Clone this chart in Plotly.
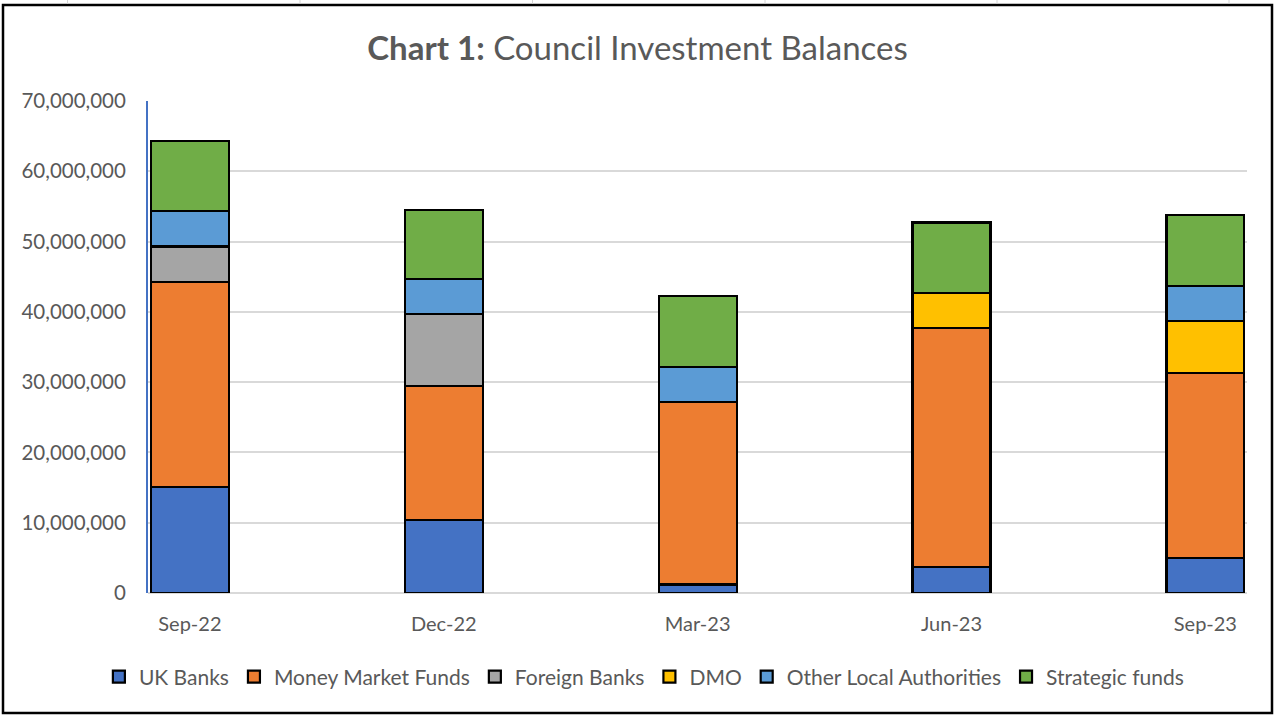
import plotly.graph_objects as go

# ---- data (GBP) ----
categories = ["Sep-22", "Dec-22", "Mar-23", "Jun-23", "Sep-23"]
uk_banks = [15100000, 10400000, 1200000, 3700000, 5000000]
money_market_funds = [29200000, 19100000, 26000000, 34000000, 26300000]
foreign_banks = [5000000, 10200000, None, None, None]
dmo = [None, None, None, 5000000, 7400000]
other_local_authorities = [5000000, 5000000, 5000000, None, 5000000]
strategic_funds = [10000000, 9800000, 10000000, 10000000, 10100000]

series = [
    ("UK Banks", uk_banks, "#4472C4"),
    ("Money Market Funds", money_market_funds, "#ED7D31"),
    ("Foreign Banks", foreign_banks, "#A5A5A5"),
    ("DMO", dmo, "#FFC000"),
    ("Other Local Authorities", other_local_authorities, "#5B9BD5"),
    ("Strategic funds", strategic_funds, "#70AD47"),
]

W, H = 1275, 715
L, R, T, B = 148, 1247, 101, 593  # plot-area pixel edges
FONT = "Lato"
TXT = "#595959"

fig = go.Figure()
for name, vals, col in series:
    fig.add_trace(go.Bar(
        x=categories, y=vals, name=name, width=0.307,
        marker=dict(color=col, line=dict(color="black", width=2.2)),
    ))

def px_x(p):
    return (p - L) / (R - L)

def px_y(p):
    return (B - p) / (B - T)

shapes = [
    dict(type="rect", xref="paper", yref="paper",
         x0=px_x(3), x1=px_x(1272), y0=px_y(713), y1=px_y(5),
         line=dict(color="black", width=2.5), fillcolor="rgba(0,0,0,0)",
         layer="above"),
]
# faint spreadsheet cell lines peeking above the chart frame
for gx in (67.5, 300, 532.5, 765, 997, 1229):
    shapes.append(dict(type="line", xref="paper", yref="paper",
                       x0=px_x(gx), x1=px_x(gx), y0=px_y(0), y1=px_y(3.5),
                       line=dict(color="#D4D4D4", width=1)))

fig.update_layout(
    width=W, height=H,
    margin=dict(l=L, r=W - R, t=T, b=H - B),
    paper_bgcolor="white", plot_bgcolor="white",
    barmode="stack",
    font=dict(family=FONT, color=TXT, size=20),
    title=dict(
        text="<b>Chart 1:</b> Council Investment Balances",
        x=0.5, xref="container", xanchor="center",
        y=1 - 48 / H, yref="container", yanchor="middle",
        font=dict(family=FONT, size=33, color=TXT),
    ),
    xaxis=dict(
        type="category", range=[-0.165, 4.164],
        showgrid=False, showline=False, ticks="",
        tickfont=dict(size=20, color=TXT),
        ticklabelstandoff=17,
    ),
    yaxis=dict(
        range=[0, 70000000], dtick=10000000, tickformat=",d",
        showgrid=True, gridcolor="#D9D9D9", gridwidth=2,
        zeroline=True, zerolinecolor="#D9D9D9", zerolinewidth=2,
        showline=True, linecolor="#4472C4", linewidth=2,
        ticks="", tickfont=dict(size=20.5, color=TXT),
        ticklabelstandoff=16,
    ),
    legend=dict(
        orientation="h", traceorder="normal",
        x=0.505, xref="container", xanchor="center",
        y=1 - 677 / H, yref="container", yanchor="middle",
        font=dict(size=21, color=TXT),
    ),
    showlegend=True,
    shapes=shapes,
)

fig.write_html("out.html")
